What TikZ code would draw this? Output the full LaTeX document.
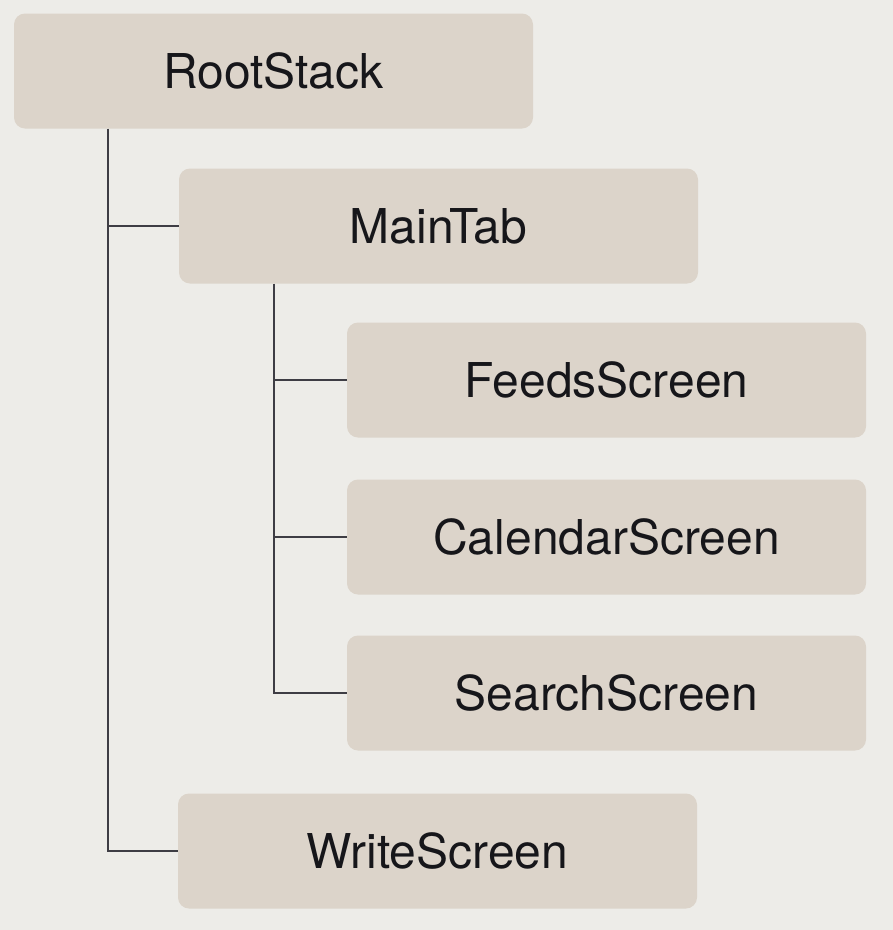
\documentclass[tikz,border=0pt]{standalone}
\usepackage{fontspec}
\setmainfont{TeX Gyre Heros}
\definecolor{bgc}{HTML}{EDECE8}
\definecolor{boxc}{HTML}{DCD4CA}
\definecolor{linec}{HTML}{3E3D44}
\definecolor{txtc}{HTML}{16161A}
\begin{document}
\begin{tikzpicture}[x=1pt,y=-1pt,
  box/.style={fill=boxc,rounded corners=11pt,minimum height=115pt,inner sep=0pt,
    font=\fontsize{48}{50}\selectfont,text=txtc},
  wide/.style={box,minimum width=519pt},
  conn/.style={draw=linec,line width=2.7pt}]
\fill[bgc] (0,0) rectangle (893,930);
\useasboundingbox (0,0) rectangle (893,930);
\node[wide] (root) at (273.5,71) {\raisebox{-2pt}{RootStack}};
\node[wide] (main) at (438.5,226) {\raisebox{-2pt}{MainTab}};
\node[wide] (feeds) at (606.5,380) {\raisebox{-2pt}{FeedsScreen}};
\node[wide] (cal) at (606.5,537) {\raisebox{-2pt}{CalendarScreen}};
\node[wide] (search) at (606.5,693) {\raisebox{-2pt}{SearchScreen}};
\node[wide] (write) at (437.5,851) {\raisebox{-2pt}{WriteScreen}};
\coordinate (v1) at (108,0);
\coordinate (v2) at (274,0);
\draw[conn] (v1 |- root.south) -- (v1 |- write.west) -- (write.west);
\draw[conn] (v1 |- main.west) -- (main.west);
\draw[conn] (v2 |- main.south) -- (v2 |- search.west) -- (search.west);
\draw[conn] (v2 |- feeds.west) -- (feeds.west);
\draw[conn] (v2 |- cal.west) -- (cal.west);
\end{tikzpicture}
\end{document}
